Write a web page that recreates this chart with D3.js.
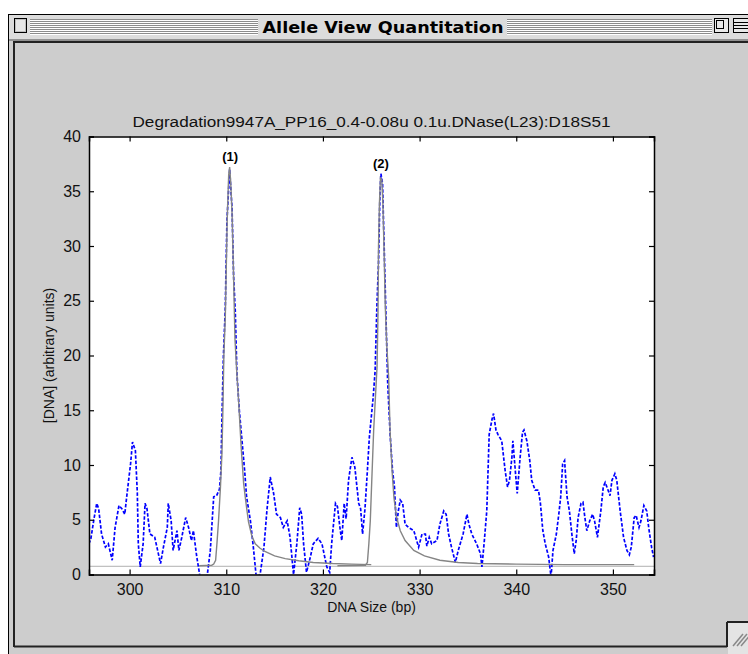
<!DOCTYPE html>
<html>
<head>
<meta charset="utf-8">
<script src="https://cdn.jsdelivr.net/npm/d3@7"></script>
<style>
html,body{margin:0;padding:0;background:#ffffff;}
svg{display:block;}
text{font-family:"Liberation Sans",Arial,Helvetica,sans-serif;}
</style>
</head>
<body>
<svg id="chart" width="748" height="654"></svg>
<script>
// ---------- data ----------
const windowTitle = "Allele View Quantitation";
const chartTitle = "Degradation9947A_PP16_0.4-0.08u 0.1u.DNase(L23):D18S51";
const xLabel = "DNA Size (bp)";
const yLabel = "[DNA] (arbitrary units)";
const xTicks = [300, 310, 320, 330, 340, 350];
const yTicks = [0, 5, 10, 15, 20, 25, 30, 35, 40];
const xDomain = [295.8, 354.25];
const yDomain = [0, 40];

// measured trace (blue dashed)
const traceSize = [295.8,296.0,296.3,296.6,296.8,297.1,297.5,297.8,298.2,298.5,298.9,299.2,299.5,299.7,300.1,300.3,300.6,300.8,300.9,301.1,301.4,301.6,301.8,302.1,302.6,303.2,303.5,303.9,304.0,304.3,304.5,304.9,305.1,305.4,305.8,306.1,306.4,306.6,306.95,307.3,308.0,308.35,308.7,309.0,309.3,309.45,309.55,309.7,309.9,310.07,310.35,310.6,310.76,310.93,311.1,311.35,311.6,311.9,312.1,312.5,312.8,313.1,313.5,313.9,314.2,314.55,314.9,315.2,315.6,315.9,316.3,316.6,316.96,317.3,317.6,317.8,318.0,318.3,318.7,319.0,319.5,319.9,320.4,320.7,320.9,321.3,321.5,321.8,321.95,322.2,322.4,322.65,323.0,323.3,323.7,323.9,324.1,324.35,324.6,324.8,325.07,325.2,325.4,325.58,325.75,325.9,326.0,326.17,326.45,326.7,326.95,327.2,327.4,327.6,327.8,328.0,328.25,328.5,328.85,329.4,329.7,329.9,330.25,330.6,330.75,331.0,331.25,331.8,332.1,332.5,332.75,333.0,333.3,333.7,334.0,334.5,334.9,335.1,335.4,335.9,336.3,336.45,336.7,336.95,337.2,337.5,337.65,337.9,338.1,338.5,338.85,339.1,339.3,339.55,339.65,339.9,340.1,340.4,340.65,340.8,341.1,341.4,341.6,341.95,342.3,342.5,342.75,343.0,343.35,343.6,343.8,344.15,344.4,344.6,344.8,345.0,345.25,345.5,345.75,346.0,346.2,346.4,346.7,346.9,347.1,347.3,347.6,347.9,348.1,348.4,348.75,349.0,349.2,349.5,349.7,349.9,350.2,350.4,350.75,351.1,351.45,351.7,351.9,352.2,352.4,352.7,352.9,353.2,353.5,353.7,354.0,354.2];
const traceValue = [2.8,3.3,5.0,6.5,6.0,3.7,2.5,2.8,1.3,4.3,6.3,6.0,5.5,7.1,10.1,12.1,11.3,7.4,2.8,0.7,2.8,6.5,6.0,3.7,3.4,1.0,2.5,4.3,6.5,4.9,2.2,4.0,2.2,3.4,5.2,4.3,3.1,4.0,1.6,-0.3,-0.3,2.2,7.1,7.2,7.8,9.5,14.1,19.8,24.4,32.3,37.0,33.4,27.2,24.1,18.4,15.0,12.5,9.5,7.1,4.9,2.5,-0.2,0.0,2.5,5.8,8.9,7.4,5.5,5.2,4.3,4.9,3.4,0.0,2.8,6.1,5.5,2.8,0.2,1.6,2.8,3.3,2.8,0.7,0.2,2.8,6.5,6.2,4.0,3.1,6.5,5.1,8.6,10.7,9.8,6.5,6.0,3.7,6.0,9.5,12.5,15.0,16.2,18.6,24.4,28.4,34.8,36.6,35.7,26.0,17.5,12.8,9.5,8.0,4.3,5.8,6.8,6.5,4.6,4.3,4.0,3.1,2.5,3.7,3.7,2.6,3.4,2.8,3.1,4.6,5.8,5.5,3.7,2.5,1.1,2.2,3.7,5.5,4.6,3.7,2.8,1.9,0.7,3.1,5.8,12.8,14.2,14.7,13.2,12.8,12.2,9.5,8.0,8.6,10.7,12.2,9.5,7.4,10.7,13.0,13.2,12.2,10.4,8.6,7.7,7.7,6.5,4.0,2.8,1.6,-0.2,2.2,3.7,5.5,7.1,10.1,10.4,7.1,5.8,3.7,1.9,3.1,5.2,6.5,6.6,5.2,4.0,4.9,5.5,4.9,3.4,5.8,8.0,8.4,7.7,7.2,8.6,9.2,8.6,5.8,3.4,2.2,1.8,2.5,5.2,5.4,4.3,4.9,6.3,5.8,4.3,2.5,1.6];

// fitted peak (1) (grey)
const fit1Size  = [307.2,308.5,308.7,308.9,309.05,309.2,309.4,309.55,309.65,309.75,309.9,310.0,310.1,310.25,310.35,310.45,310.6,310.75,310.9,311.1,311.3,311.55,311.8,312.0,312.3,312.65,313.0,313.5,314.0,315.0,316.1,317.5,319.0,321.0,323.0,325.0];
const fit1Value = [0.8,0.85,0.95,1.3,3.0,4.9,8.0,11.0,15.0,20.0,23.5,28.0,32.5,36.5,37.2,36.0,33.0,27.5,21.5,18.3,15.5,11.5,8.3,6.8,4.8,3.5,2.8,2.4,2.1,1.7,1.45,1.25,1.1,1.0,0.95,0.9];
// fitted peak (2) (grey)
const fit2Size  = [321.5,324.4,324.6,324.75,324.9,325.05,325.25,325.45,325.6,325.7,325.75,325.85,325.95,326.1,326.2,326.34,326.45,326.6,326.8,326.95,327.15,327.35,327.6,328.0,328.5,329.4,330.5,332.1,334.0,336.0,340.0,345.0,352.2];
const fit2Value = [0.8,0.85,1.1,2.8,4.9,8.5,13.2,16.5,19.0,24.0,30.0,34.0,36.2,36.0,34.0,29.0,24.5,21.0,18.0,13.0,9.5,7.0,5.3,4.0,3.1,2.2,1.7,1.3,1.1,1.0,0.95,0.9,0.9];
const baselineValue = 0.75;

const peakLabels = ["(1)", "(2)"];
const peakLabelSize = [310.4, 326.0];
const peakLabelValue = [37.2, 36.6];

// ---------- drawing ----------
const svg = d3.select("#chart");

// window chrome
svg.append("rect").attr("x",0).attr("y",0).attr("width",748).attr("height",654).attr("fill","#ffffff");
svg.append("rect").attr("x",8.5).attr("y",14.5).attr("width",760).attr("height",660)
  .attr("fill","#cdcdcd").attr("stroke","#000").attr("stroke-width",1);
// title bar
svg.append("rect").attr("x",9).attr("y",15).attr("width",760).attr("height",24).attr("fill","#dcdcdc");
const stripes = svg.append("g");
[[30,258],[507,712]].forEach(([a,b])=>{
  for(let yy=19; yy<=33; yy+=2){
    stripes.append("line").attr("x1",a).attr("x2",b).attr("y1",yy+0.5).attr("y2",yy+0.5)
      .attr("stroke", "#8c8c8c").attr("stroke-width",1);
    stripes.append("line").attr("x1",a).attr("x2",b).attr("y1",yy+1.5).attr("y2",yy+1.5)
      .attr("stroke", "#ffffff").attr("stroke-width",1);
  }
});
// close box
svg.append("rect").attr("x",14.5).attr("y",18.5).attr("width",12).attr("height",14).attr("fill","#bdbdbd").attr("stroke","#000");
svg.append("rect").attr("x",16).attr("y",20).attr("width",9).attr("height",11).attr("fill","#e6e6e6");
// zoom / collapse boxes
svg.append("rect").attr("x",714.5).attr("y",18.5).attr("width",14).attr("height",14).attr("fill","#e8e8e8").attr("stroke","#000");
svg.append("rect").attr("x",716.5).attr("y",20.5).attr("width",7).attr("height",8).attr("fill","none").attr("stroke","#000");
svg.append("rect").attr("x",733.5).attr("y",18.5).attr("width",16).attr("height",14).attr("fill","#e8e8e8").attr("stroke","#000");
[22.5,25.5,28.5].forEach(yy=>svg.append("line").attr("x1",734).attr("x2",749).attr("y1",yy).attr("y2",yy).attr("stroke","#000"));
svg.append("text").attr("x",383).attr("y",33).attr("text-anchor","middle")
  .style("font-family","'DejaVu Sans Condensed','DejaVu Sans',sans-serif").style("font-weight","bold").style("font-size","16px")
  .attr("textLength",241).attr("lengthAdjust","spacingAndGlyphs").attr("fill","#000").text(windowTitle);
// content frame
svg.append("line").attr("x1",9).attr("x2",748).attr("y1",40).attr("y2",40).attr("stroke","#555").attr("stroke-width",1);
svg.append("line").attr("x1",13).attr("x2",748).attr("y1",42).attr("y2",42).attr("stroke","#222").attr("stroke-width",2);
svg.append("line").attr("x1",14).attr("x2",14).attr("y1",42).attr("y2",647).attr("stroke","#222").attr("stroke-width",2);
svg.append("line").attr("x1",14).attr("x2",727).attr("y1",646.5).attr("y2",646.5).attr("stroke","#222").attr("stroke-width",2);
svg.append("line").attr("x1",727).attr("x2",727).attr("y1",622).attr("y2",647).attr("stroke","#222").attr("stroke-width",2);
svg.append("line").attr("x1",727).attr("x2",748).attr("y1",622).attr("y2",622).attr("stroke","#222").attr("stroke-width",2);
svg.append("rect").attr("x",728).attr("y",623).attr("width",20).attr("height",31).attr("fill","#e4e4e4");
[0,4,8].forEach(d=>svg.append("line").attr("x1",733+d).attr("y1",646).attr("x2",743+d).attr("y2",634)
   .attr("stroke","#888").attr("stroke-width",1.5));

// plot
const margin = {left:89, top:136.5, right:654, bottom:574.5};
const x = d3.scaleLinear().domain(xDomain).range([margin.left, margin.right]);
const y = d3.scaleLinear().domain(yDomain).range([margin.bottom, margin.top]);

svg.append("rect").attr("x",margin.left).attr("y",margin.top)
  .attr("width",margin.right-margin.left).attr("height",margin.bottom-margin.top).attr("fill","#fff");

svg.append("clipPath").attr("id","clip").append("rect")
  .attr("x",margin.left).attr("y",margin.top).attr("width",margin.right-margin.left).attr("height",margin.bottom-margin.top);

const plot = svg.append("g").attr("clip-path","url(#clip)");

// baseline
plot.append("line").attr("x1",x(xDomain[0])).attr("x2",x(xDomain[1]))
  .attr("y1",y(baselineValue)).attr("y2",y(baselineValue)).attr("stroke","#b0b0b0").attr("stroke-width",1);

// trace
const traceLine = d3.line().x(d=>x(d[0])).y(d=>y(d[1]));
plot.append("path").datum(d3.zip(traceSize, traceValue)).attr("d", traceLine)
  .attr("fill","none").attr("stroke","#0000ff").attr("stroke-width",1.7).attr("stroke-dasharray","3.5,1.8");

// fitted curves
[[fit1Size,fit1Value],[fit2Size,fit2Value]].forEach(([s,v])=>{
  plot.append("path").datum(d3.zip(s,v)).attr("d", d3.line().x(d=>x(d[0])).y(d=>y(d[1])))
    .attr("fill","none").attr("stroke","#858585").attr("stroke-width",1.4);
});

// peak labels
peakLabels.forEach((t,i)=>{
  svg.append("text").attr("x",x(peakLabelSize[i])).attr("y",y(peakLabelValue[i])-6)
    .attr("text-anchor","middle").style("font-weight","bold").style("font-size","13px").attr("fill","#000").text(t);
});

// axes (MATLAB style box with inward ticks)
const axB = d3.axisBottom(x).tickValues(xTicks).tickSize(-5).tickPadding(9).tickFormat(d3.format("d"));
const axT = d3.axisTop(x).tickValues(xTicks).tickSize(-5).tickFormat("");
const axL = d3.axisLeft(y).tickValues(yTicks).tickSize(-5).tickPadding(8).tickFormat(d3.format("d"));
const axR = d3.axisRight(y).tickValues(yTicks).tickSize(-5).tickFormat("");
const gB = svg.append("g").attr("transform",`translate(0,${margin.bottom})`).call(axB);
const gT = svg.append("g").attr("transform",`translate(0,${margin.top})`).call(axT);
const gL = svg.append("g").attr("transform",`translate(${margin.left},0)`).call(axL);
const gR = svg.append("g").attr("transform",`translate(${margin.right},0)`).call(axR);
[gB,gT,gL,gR].forEach(g=>{
  g.select(".domain").attr("stroke","#000").attr("stroke-width",1.5);
  g.selectAll(".tick line").attr("stroke","#000").attr("stroke-width",1.2);
  g.selectAll("text").style("font-family","'Liberation Sans',Arial,sans-serif").style("font-size","16px").attr("fill","#111");
});

// titles
svg.append("text").attr("x",(margin.left+margin.right)/2).attr("y",127).attr("text-anchor","middle")
  .style("font-size","14px").attr("textLength",478).attr("lengthAdjust","spacingAndGlyphs").attr("fill","#111").text(chartTitle);
svg.append("text").attr("x",(margin.left+margin.right)/2).attr("y",612).attr("text-anchor","middle")
  .style("font-size","14px").attr("fill","#111").text(xLabel);
svg.append("text").attr("transform",`translate(54,${(margin.top+margin.bottom)/2}) rotate(-90)`).attr("text-anchor","middle")
  .style("font-size","14px").attr("fill","#111").text(yLabel);
</script>
</body>
</html>
